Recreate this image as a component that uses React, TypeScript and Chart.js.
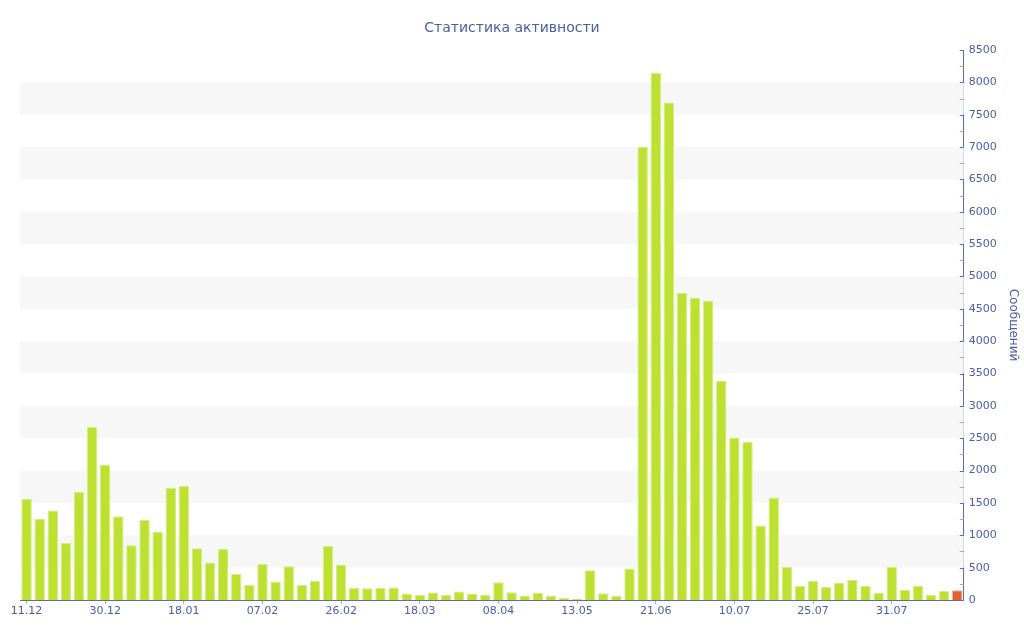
import React, { useEffect, useRef } from "react";
import { Chart, registerables } from "chart.js";

Chart.register(...registerables);

const tickLabels = ["11.12", "30.12", "18.01", "07.02", "26.02", "18.03", "08.04", "13.05", "21.06", "10.07", "25.07", "31.07"];
const labelEvery = 6;
const messages = [
  1560, 1250, 1385, 880, 1670, 2675, 2095, 1295, 845, 1235, 1050, 1735,
  1760, 800, 580, 790, 400, 230, 560, 285, 520, 230, 295, 835,
  550, 190, 180, 185, 195, 100, 80, 115, 80, 130, 100, 80,
  275, 120, 70, 110, 70, 35, 20, 460, 105, 70, 485, 7000,
  8150, 7690, 4750, 4670, 4630, 3390, 2510, 2440, 1150, 1585, 510, 220,
  295, 200, 265, 310, 220, 110, 510, 160, 220, 80, 140, 150,
];
const categories = messages.map((_, i) => (i % labelEvery === 0 ? tickLabels[i / labelEvery] ?? "" : ""));

const TEXT = "#4a5ca4";
const AXIS = "#5a6cad";
const FONT = "'DejaVu Sans', Verdana, sans-serif";

const bandsPlugin = {
  id: "bands",
  beforeDatasetsDraw(chart: any) {
    const { ctx, chartArea, scales } = chart;
    const y = scales.y;
    ctx.save();
    ctx.fillStyle = "#f7f7f7";
    for (let v = 500; v < 8500; v += 1000) {
      const y1 = y.getPixelForValue(v + 500);
      const y2 = y.getPixelForValue(v);
      ctx.fillRect(chartArea.left, y1, chartArea.right - chartArea.left, y2 - y1);
    }
    ctx.restore();
  },
  afterDraw(chart: any) {
    const { ctx, chartArea, scales } = chart;
    const y = scales.y;
    ctx.save();
    ctx.lineWidth = 1;
    for (let v = 0; v <= 8500; v += 250) {
      const py = Math.round(y.getPixelForValue(v)) + 0.5;
      ctx.strokeStyle = v % 500 === 0 ? AXIS : "#a8a8a8";
      ctx.beginPath();
      ctx.moveTo(chartArea.right - 4, py);
      ctx.lineTo(chartArea.right, py);
      ctx.stroke();
    }
    ctx.fillStyle = TEXT;
    ctx.font = `14px ${FONT}`;
    ctx.textAlign = "center";
    ctx.textBaseline = "alphabetic";
    ctx.fillText("Статистика активности", 512, 31.5);
    ctx.restore();
  },
};

export default function App() {
  const ref = useRef<HTMLCanvasElement>(null);
  useEffect(() => {
    const last = messages.length - 1;
    const chart = new Chart(ref.current!, {
      type: "bar",
      data: {
        labels: categories,
        datasets: [
          {
            label: "Сообщений",
            data: messages,
            backgroundColor: (c: any) => (c.dataIndex === last ? "#e2622b" : "#bde031"),
            borderColor: (c: any) => (c.dataIndex === last ? "#f2b0a0" : "#d6ee86"),
            borderWidth: 1,
            borderSkipped: "bottom",
            categoryPercentage: 1,
            barPercentage: 0.8,
          },
        ],
      },
      options: {
        animation: false,
        responsive: false,
        layout: { padding: { left: 20, top: 50, right: 0, bottom: 0 } },
        plugins: { legend: { display: false }, title: { display: false }, tooltip: { enabled: false } },
        scales: {
          x: {
            grid: {
              display: true,
              offset: false,
              drawOnChartArea: false,
              drawTicks: true,
              tickLength: 4,
              color: (c: any) => (c.tick && c.tick.label ? "#b0b0b0" : "rgba(0,0,0,0)"),
            },
            border: { display: true, color: AXIS, width: 1 },
            ticks: {
              autoSkip: false,
              maxRotation: 0,
              minRotation: 0,
              padding: 1,
              color: TEXT,
              font: { family: FONT, size: 11 },
            },
            afterFit(s: any) {
              s.height = 40;
            },
          },
          y: {
            position: "right",
            min: 0,
            max: 8500,
            grid: { display: false, drawTicks: false },
            border: { display: true, color: AXIS, width: 1 },
            ticks: {
              stepSize: 250,
              padding: 5,
              color: TEXT,
              font: { family: FONT, size: 11 },
              callback: (v: any) => (Number(v) % 500 === 0 ? String(v) : ""),
            },
            title: {
              display: true,
              text: "Сообщений",
              color: TEXT,
              font: { family: FONT, size: 12 },
              padding: 4,
            },
            afterFit(s: any) {
              s.width = 60.2;
            },
          },
        },
      },
      plugins: [bandsPlugin],
    });
    return () => chart.destroy();
  }, []);
  return (
    <div style={{ position: "fixed", left: 0, top: 0, width: 1024, height: 640, background: "#fff" }}>
      <canvas ref={ref} width={1024} height={640} style={{ width: 1024, height: 640, display: "block" }} />
    </div>
  );
}
